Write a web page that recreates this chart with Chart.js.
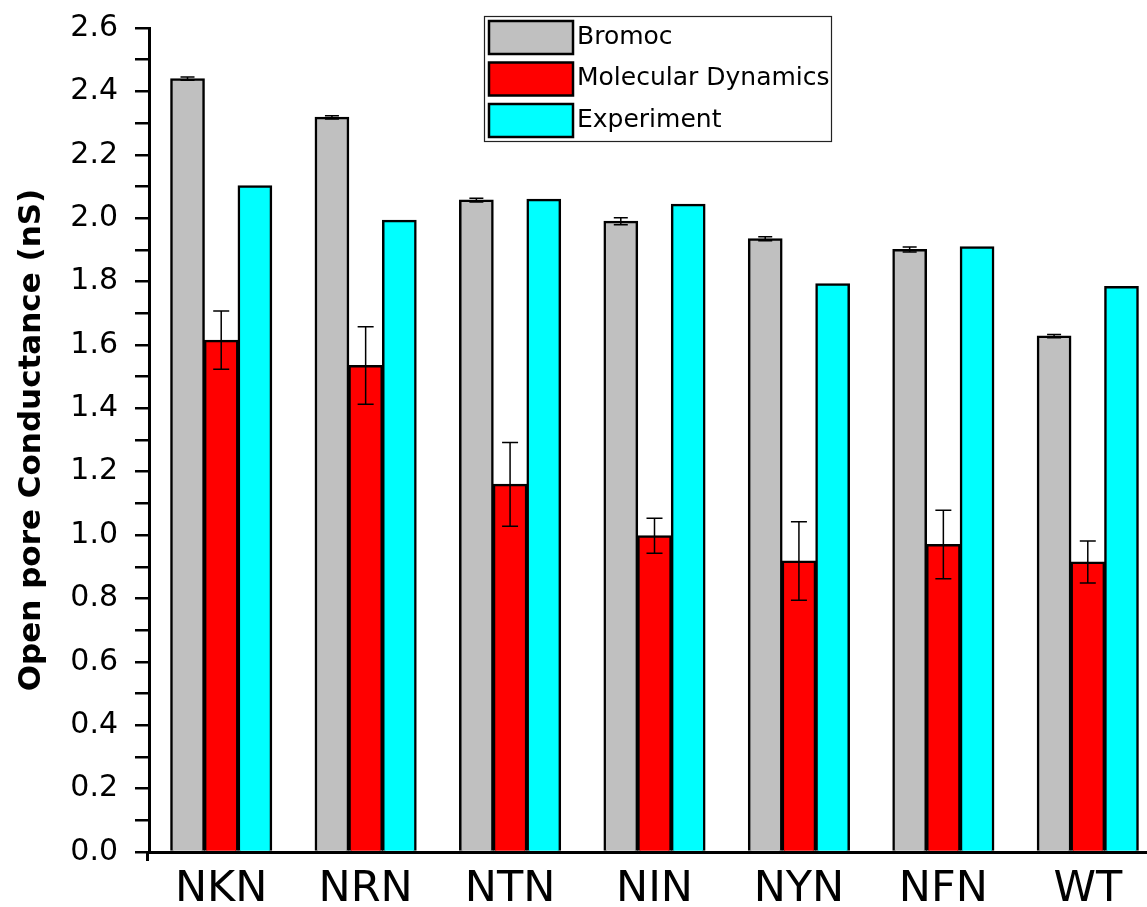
<!DOCTYPE html>
<html>
<head>
<meta charset="utf-8">
<script src="https://cdn.jsdelivr.net/npm/chart.js@4/dist/chart.umd.min.js"></script>
<style>
  html, body { margin: 0; padding: 0; background: #fff; overflow: hidden; }
  #wrap { width: 1147px; height: 907px; overflow: hidden; }
  canvas { display: block; }
</style>
</head>
<body>
<div id="wrap"><canvas id="c" width="1162" height="907"></canvas></div>
<script>
// Open pore conductance per channel variant
const categories = ['NKN', 'NRN', 'NTN', 'NIN', 'NYN', 'NFN', 'WT'];
const bromoc     = [2.440, 2.318, 2.057, 1.990, 1.935, 1.901, 1.628];
const bromocErr  = [0.005, 0.005, 0.006, 0.011, 0.006, 0.008, 0.005];
const md         = [1.615, 1.535, 1.160, 0.998, 0.918, 0.970, 0.915];
const mdErr      = [0.092, 0.122, 0.132, 0.055, 0.124, 0.108, 0.066];
const experiment = [2.102, 1.993, 2.060, 2.044, 1.793, 1.910, 1.784];
const seriesNames = ['Bromoc', 'Molecular Dynamics', 'Experiment'];
const yTitle = 'Open pore Conductance (nS)';

const FONT = "'DejaVu Sans', sans-serif";

// Vertical error bars with caps, positioned through the y scale
const errorBars = {
  id: 'errorBars',
  afterDatasetsDraw(chart) {
    const ctx = chart.ctx;
    const y = chart.scales.y;
    chart.data.datasets.forEach((ds, di) => {
      if (!ds.errors) return;
      const meta = chart.getDatasetMeta(di);
      ctx.save();
      ctx.strokeStyle = '#000';
      ctx.lineWidth = 1.5;
      meta.data.forEach((bar, i) => {
        const v = ds.data[i], e = ds.errors[i];
        const yTop = y.getPixelForValue(v + e);
        const yBot = y.getPixelForValue(v - e);
        const cx = bar.x, cap = ds.capHalf;
        ctx.beginPath();
        ctx.moveTo(cx, yTop); ctx.lineTo(cx, yBot);
        ctx.moveTo(cx - cap, yTop); ctx.lineTo(cx + cap, yTop);
        ctx.moveTo(cx - cap, yBot); ctx.lineTo(cx + cap, yBot);
        ctx.stroke();
      });
      ctx.restore();
    });
  }
};

// Boxed legend with wide swatches
const boxLegend = {
  id: 'boxLegend',
  afterDraw(chart) {
    const ctx = chart.ctx;
    ctx.save();
    ctx.strokeStyle = '#222';
    ctx.lineWidth = 1.2;
    ctx.strokeRect(484.5, 16.5, 347, 125);
    chart.data.datasets.forEach((ds, i) => {
      const top = 21 + i * 41.5;
      ctx.fillStyle = ds.backgroundColor;
      ctx.fillRect(489, top, 84, 33);
      ctx.strokeStyle = '#000';
      ctx.lineWidth = 2.5;
      ctx.strokeRect(489, top, 84, 33);
      ctx.fillStyle = '#000';
      ctx.font = '25px ' + FONT;
      ctx.textBaseline = 'middle';
      ctx.textAlign = 'left';
      ctx.fillText(ds.label, 577, top + 16);
    });
    ctx.restore();
  }
};

// Short extension of the y axis below the baseline
const axisStub = {
  id: 'axisStub',
  afterDraw(chart) {
    const ctx = chart.ctx;
    const a = chart.chartArea;
    ctx.save();
    ctx.strokeStyle = '#000';
    ctx.lineWidth = 3;
    ctx.beginPath();
    ctx.moveTo(a.left - 1.5, a.bottom);
    ctx.lineTo(a.left - 1.5, a.bottom + 9);
    ctx.stroke();
    ctx.restore();
  }
};

const whiteBg = {
  id: 'whiteBg',
  beforeDraw(chart) {
    const ctx = chart.ctx;
    ctx.save();
    ctx.fillStyle = '#fff';
    ctx.fillRect(0, 0, chart.width, chart.height);
    ctx.restore();
  }
};

new Chart(document.getElementById('c'), {
  type: 'bar',
  data: {
    labels: categories,
    datasets: [
      { label: seriesNames[0], data: bromoc, errors: bromocErr, capHalf: 7,
        backgroundColor: '#C0C0C0', borderColor: '#000', borderWidth: 2.5, inflateAmount: 0.5 },
      { label: seriesNames[1], data: md, errors: mdErr, capHalf: 8,
        backgroundColor: '#FF0000', borderColor: '#000', borderWidth: 2.5, inflateAmount: 0.5 },
      { label: seriesNames[2], data: experiment,
        backgroundColor: '#00FFFF', borderColor: '#000', borderWidth: 2.5, inflateAmount: 0.5 }
    ]
  },
  options: {
    responsive: false,
    animation: false,
    devicePixelRatio: 1,
    layout: { padding: { top: 28, right: 2, left: 0, bottom: 0 } },
    datasets: { bar: { barPercentage: 1.0, categoryPercentage: 0.70 } },
    plugins: {
      legend: { display: false },
      tooltip: { enabled: false }
    },
    scales: {
      x: {
        grid: { display: true, drawOnChartArea: false, drawTicks: false, color: 'rgba(0,0,0,0)' },
        border: { display: true, color: '#000', width: 3 },
        ticks: { color: '#000', font: { family: FONT, size: 43 }, padding: 12, maxRotation: 0 },
        afterFit(scale) { scale.height = 55; scale.paddingLeft = 0; scale.paddingRight = 0; }
      },
      y: {
        min: 0, max: 2.6,
        grid: { display: true, drawOnChartArea: false, drawTicks: true, tickLength: 14, color: '#000', lineWidth: 2.5 },
        border: { display: true, color: '#000', width: 3 },
        ticks: {
          stepSize: 0.1, color: '#000', padding: 17,
          font: { family: FONT, size: 30 },
          autoSkip: false,
          callback(v) {
            const k = Math.round(v * 10);
            return k % 2 === 0 ? (k / 10).toFixed(1) : '';
          }
        },
        title: {
          display: true, text: yTitle, color: '#000',
          font: { family: FONT, size: 31, weight: 'bold' },
          padding: { top: 13, bottom: 0 }
        },
        afterFit(scale) { scale.width = 149; scale.paddingTop = 0; scale.paddingBottom = 0; }
      }
    }
  },
  plugins: [whiteBg, errorBars, boxLegend, axisStub]
});
</script>
</body>
</html>
